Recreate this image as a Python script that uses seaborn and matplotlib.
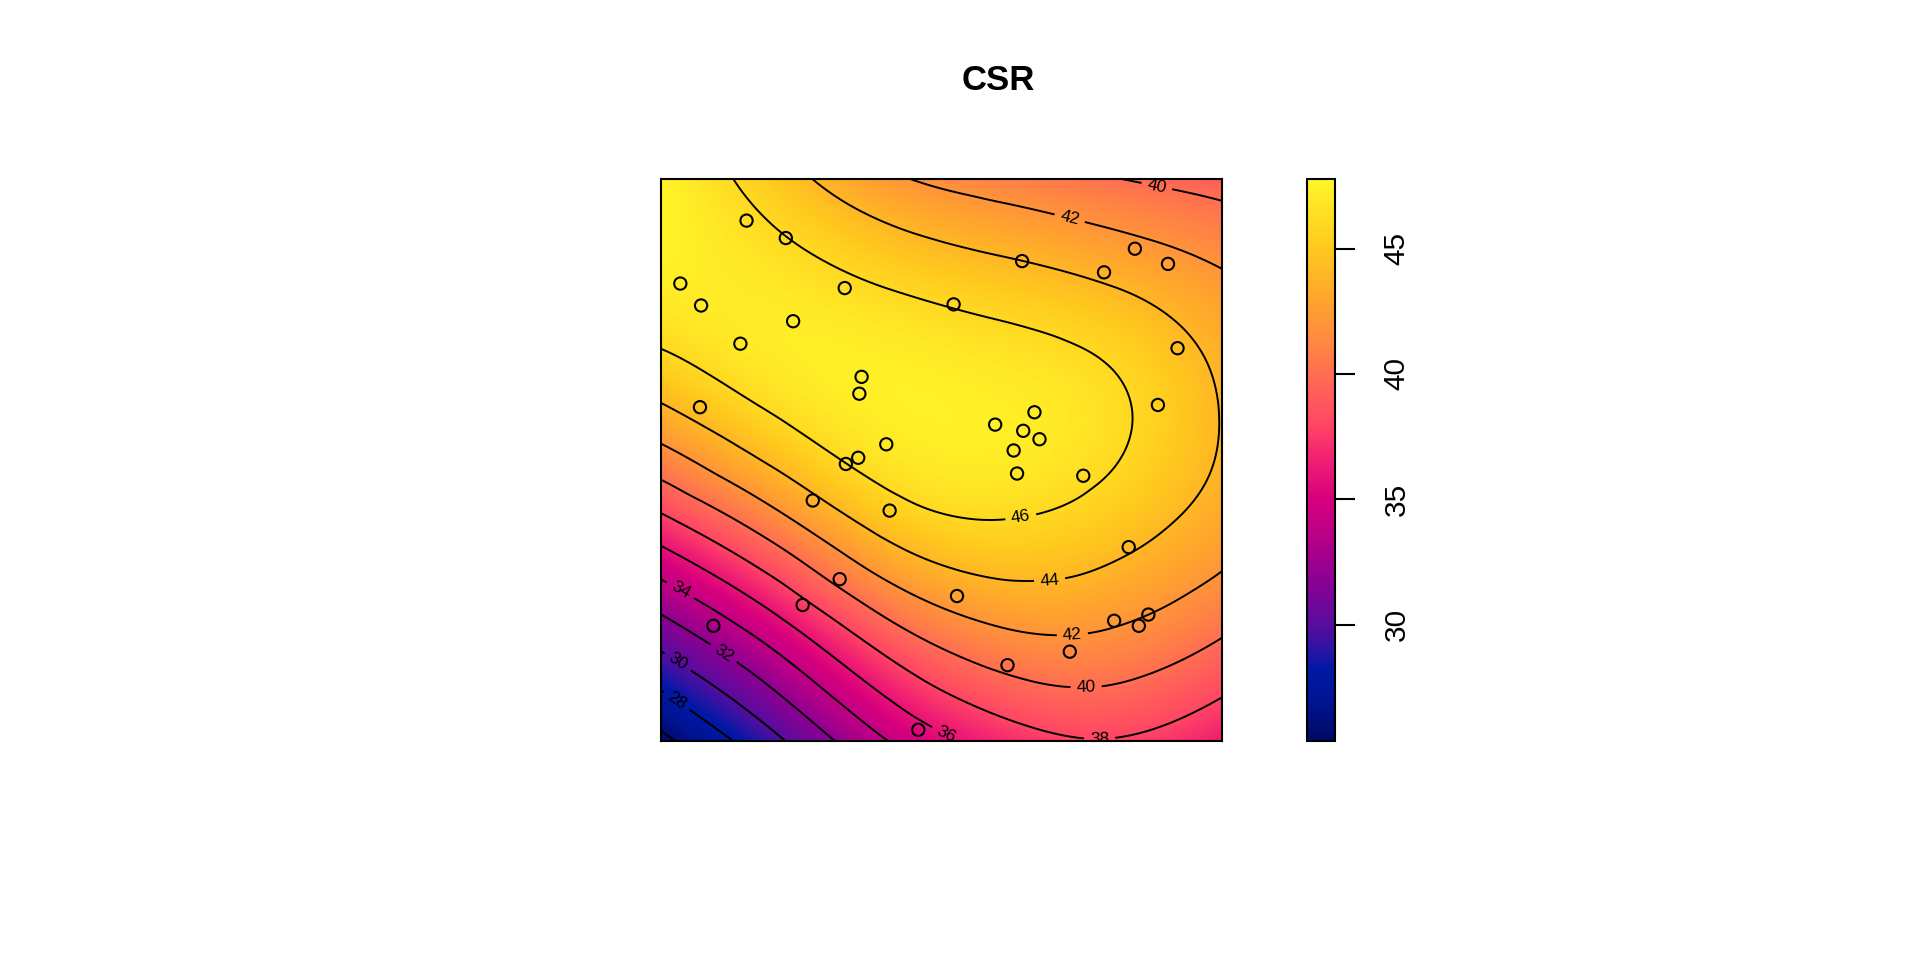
import numpy as np
import matplotlib
matplotlib.use("Agg")
import matplotlib.pyplot as plt
import matplotlib.tri as mtri
from matplotlib.colors import LinearSegmentedColormap
import seaborn as sns


# smoothed surface, rows from bottom (y=0) to top (y=1)
grid_x = [0.0, 0.2, 0.4, 0.6, 0.8, 1.0]
grid_y = [0.0, 0.2, 0.4, 0.6, 0.8, 1.0]
grid_values = [
    [25.5, 29.5, 33.9, 36.8, 37.9, 36.4],
    [31.2, 35.1, 39.4, 41.9, 42.0, 40.3],
    [37.8, 41.5, 45.0, 46.1, 45.2, 43.2],
    [43.95, 46.3, 47.4, 47.3, 46.35, 43.9],
    [47.2, 47.0, 46.1, 45.2, 44.2, 42.55],
    [47.7, 45.0, 42.4, 41.1, 40.1, 39.3],
]

# point pattern
point_x = [0.035, 0.072, 0.153, 0.223, 0.142, 0.236, 0.328, 0.522, 0.644, 0.790,
           0.845, 0.904, 0.921, 0.886, 0.070, 0.358, 0.354, 0.596, 0.666, 0.646,
           0.675, 0.629, 0.402, 0.352, 0.330, 0.635, 0.753, 0.271, 0.408, 0.834,
           0.319, 0.528, 0.253, 0.094, 0.808, 0.869, 0.852, 0.729, 0.618, 0.459]
point_y = [0.814, 0.775, 0.926, 0.895, 0.707, 0.747, 0.806, 0.777, 0.854, 0.834,
           0.876, 0.849, 0.699, 0.598, 0.594, 0.648, 0.618, 0.563, 0.585, 0.552,
           0.537, 0.517, 0.528, 0.504, 0.493, 0.476, 0.472, 0.428, 0.410, 0.345,
           0.288, 0.258, 0.242, 0.205, 0.214, 0.225, 0.205, 0.159, 0.135, 0.020]

contour_levels = [26, 28, 30, 32, 34, 36, 38, 40, 42, 44, 46]
label_spots = [(0.644, 0.384), (0.694, 0.275), (0.734, 0.183), (0.725, 0.915),
               (0.758, 0.100), (0.884, 0.987), (0.782, 0.009), (0.509, 0.013),
               (0.033, 0.264), (0.109, 0.151), (0.031, 0.142), (0.031, 0.074)]

value_min, value_max = 25.35, 47.78
cbar_ticks = [30, 35, 40, 45]
stop_values = [25.35, 27.0, 28.2, 29.0, 30.0, 32.0, 33.5, 35.0, 36.5, 38.0,
               39.5, 41.0, 43.0, 45.0, 47.78]
stop_colours = ["#000A64", "#001496", "#0019A5", "#2D14A5", "#5A0C9E", "#910091",
                "#B90087", "#D7007D", "#F01E73", "#FF4664", "#FF6458", "#FF8246",
                "#FFA52D", "#FFC81E", "#FFF528"]

sns.set_theme(style="white", rc={"axes.edgecolor": "black", "text.color": "black",
                                 "ytick.color": "black", "xtick.color": "black"})
plt.rcParams['font.family'] = ['Liberation Sans', 'DejaVu Sans']

stops = [(v - value_min) / (value_max - value_min) for v in stop_values]
cmap = LinearSegmentedColormap.from_list("ribbon", list(zip(stops, stop_colours)))

# smooth the read grid with matplotlib's cubic triangle interpolator
gx, gy = np.meshgrid(grid_x, grid_y)
nx = len(grid_x)
tris = []
for j in range(len(grid_y) - 1):
    for i in range(nx - 1):
        a = j * nx + i
        if (i + j) % 2 == 0:
            tris.append([a, a + 1, a + nx + 1])
            tris.append([a, a + nx + 1, a + nx])
        else:
            tris.append([a, a + 1, a + nx])
            tris.append([a + 1, a + nx + 1, a + nx])
tri = mtri.Triangulation(gx.ravel(), gy.ravel(), tris)
interp = mtri.CubicTriInterpolator(tri, np.array(grid_values).ravel(), kind="min_E")
fine = np.linspace(0, 1, 401)
fx, fy = np.meshgrid(fine, fine)
field = np.asarray(interp(fx, fy))

fig = plt.figure(figsize=(19.2, 9.6), dpi=100)
ax = fig.add_axes([0.3441, 0.2281, 0.2923, 0.5854])
cax = fig.add_axes([0.6806, 0.2281, 0.01474, 0.5854])

im = ax.imshow(field, extent=(0, 1, 0, 1), origin="lower", cmap=cmap,
               vmin=value_min, vmax=value_max, aspect="auto", interpolation="bilinear")
cs = ax.contour(fx, fy, field, levels=contour_levels, colors="black", linewidths=1.4)
ax.clabel(cs, manual=label_spots, inline=True, fontsize=12.5, fmt="%d", inline_spacing=6)

sns.scatterplot(x=point_x, y=point_y, ax=ax, s=78, marker="o", facecolors="none",
                edgecolor="black", linewidth=1.5, legend=False, zorder=3)

ax.set_xlim(0, 1)
ax.set_ylim(0, 1)
ax.set_xticks([])
ax.set_yticks([])
ax.set_xlabel("")
ax.set_ylabel("")
for sp in ax.spines.values():
    sp.set_visible(True)
    sp.set_color("black")
    sp.set_linewidth(1.5)

cb = fig.colorbar(im, cax=cax, ticks=cbar_ticks)
cb.outline.set_linewidth(1.5)
cb.outline.set_edgecolor("black")
cax.tick_params(axis="y", direction="out", length=14.4, width=1.5, pad=20,
                labelsize=21.5, labelrotation=90, right=True)
for t in cax.get_yticklabels():
    t.set_va("center")

fig.text(0.5198, 0.9159, "CSR", fontsize=25, fontweight="bold", ha="center", va="center")

fig.savefig("out.png", dpi=100)
